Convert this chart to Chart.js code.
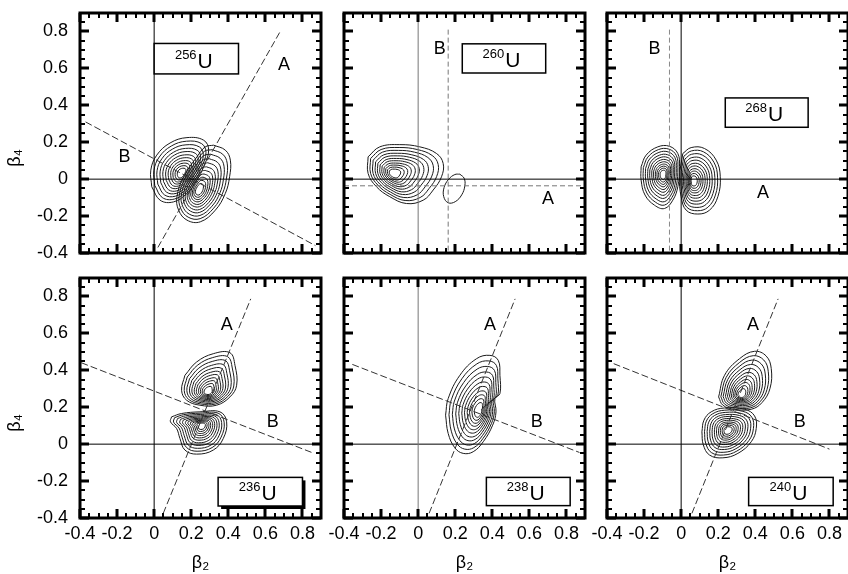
<!DOCTYPE html>
<html lang="en">
<head>
<meta charset="UTF-8">
<title>U isotopes - beta2 / beta4 contours</title>
<script src="https://cdn.jsdelivr.net/npm/chart.js"></script>
<style>
  body { margin: 0; background: #fff; }
  #wrap { position: relative; width: 848px; height: 574px; overflow: hidden; }
  #wrap canvas { position: absolute; }
</style>
</head>
<body>
<div id="wrap"></div>
<script>
// ---- data ----
const tickValues = [-0.4, -0.2, 0, 0.2, 0.4, 0.6, 0.8];
const tickLabels = ['-0.4', '-0.2', '0', '0.2', '0.4', '0.6', '0.8'];
const minorTicks = [-0.35, -0.3, -0.25, -0.15, -0.1, -0.05, 0.05, 0.1, 0.15, 0.25, 0.3, 0.35,
                    0.45, 0.5, 0.55, 0.65, 0.7, 0.75, 0.85];
const masses = ['256', '260', '268', '236', '238', '240'];

// relative size of each contour ring inside a lobe (outer = 1)
const levels = [1, 0.9, 0.8, 0.7, 0.61, 0.52, 0.44, 0.36, 0.29, 0.22, 0.15];
const single = [1];

// outer contour of each lobe, [beta2, beta4], and the point the rings close on
const u256a = [[-0.013,-0.041],[-0.018,0.049],[0.014,0.130],[0.086,0.196],[0.177,0.225],[0.267,0.211],
               [0.294,0.157],[0.267,0.067],[0.231,-0.005],[0.177,-0.077],[0.105,-0.123],[0.032,-0.114]];
const u256aMid = [0.15, 0.03];
const u256b = [[0.321,0.184],[0.384,0.157],[0.411,0.103],[0.407,0.013],[0.384,-0.077],[0.330,-0.168],
               [0.249,-0.231],[0.177,-0.222],[0.132,-0.168],[0.123,-0.095],[0.159,0.013],[0.231,0.121],[0.276,0.175]];
const u256bMid = [0.24, -0.06];

const u260a = [[-0.270,0.121],[-0.207,0.175],[-0.099,0.187],[0.009,0.175],[0.099,0.139],[0.135,0.085],
               [0.126,0.013],[0.081,-0.059],[0.027,-0.114],[-0.063,-0.132],[-0.153,-0.095],[-0.225,-0.041],[-0.270,0.031]];
const u260aMid = [-0.135, 0.031];
const u260b = [[0.225,0.027],[0.248,0.005],[0.252,-0.035],[0.235,-0.085],[0.200,-0.122],[0.162,-0.128],
               [0.138,-0.095],[0.140,-0.045],[0.165,0.000],[0.198,0.025]];
const u260bMid = [0.195, -0.05];

const u268a = [[-0.216,0.067],[-0.189,0.130],[-0.126,0.175],[-0.063,0.178],[-0.018,0.139],[-0.009,0.067],
               [-0.018,-0.041],[-0.045,-0.114],[-0.090,-0.159],[-0.144,-0.141],[-0.195,-0.086],[-0.216,-0.005]];
const u268aMid = [-0.095, 0.025];
const u268b = [[0.009,0.139],[0.054,0.171],[0.126,0.166],[0.189,0.103],[0.211,0.013],[0.198,-0.095],
               [0.153,-0.168],[0.090,-0.189],[0.027,-0.168],[0.000,-0.095],[-0.009,0.013]];
const u268bMid = [0.065, -0.01];

const u236a = [[0.166,0.373],[0.229,0.445],[0.319,0.490],[0.409,0.495],[0.436,0.427],[0.445,0.319],
               [0.409,0.256],[0.337,0.211],[0.247,0.211],[0.175,0.238],[0.148,0.292]];
const u236aMid = [0.29, 0.28];
const u236b = [[0.094,0.148],[0.148,0.166],[0.247,0.175],[0.355,0.175],[0.391,0.121],[0.373,0.031],
               [0.319,-0.032],[0.229,-0.054],[0.166,-0.032],[0.139,0.031],[0.121,0.085],[0.088,0.121]];
const u236bMid = [0.256, 0.103];

const u238a = [[0.148,0.157],[0.162,0.247],[0.225,0.373],[0.315,0.463],[0.387,0.481],[0.432,0.454],
               [0.441,0.373],[0.441,0.274],[0.414,0.247],[0.420,0.175],[0.402,0.103],[0.351,0.013],
               [0.297,-0.041],[0.243,-0.050],[0.198,-0.020],[0.162,0.058]];
const u238aMid = [0.33, 0.18];

const u240a = [[0.202,0.256],[0.234,0.373],[0.315,0.463],[0.396,0.503],[0.459,0.477],[0.486,0.409],
               [0.479,0.301],[0.436,0.225],[0.378,0.189],[0.288,0.189],[0.225,0.211]];
const u240aMid = [0.324, 0.265];
const u240b = [[0.112,0.067],[0.123,0.130],[0.162,0.175],[0.234,0.196],[0.342,0.189],[0.396,0.153],
               [0.405,0.085],[0.378,0.013],[0.306,-0.050],[0.225,-0.074],[0.153,-0.059],[0.119,-0.002]];
const u240bMid = [0.252, 0.076];

const lobes = [
  [[u256a, u256aMid, levels], [u256b, u256bMid, levels]],
  [[u260a, u260aMid, levels], [u260b, u260bMid, single]],
  [[u268a, u268aMid, levels], [u268b, u268bMid, levels]],
  [[u236a, u236aMid, levels], [u236b, u236bMid, levels]],
  [[u238a, u238aMid, levels]],
  [[u240a, u240aMid, levels], [u240b, u240bMid, levels]]
];

// fission paths A and B (end points)
const lineA = [
  [[0.02,-0.37],[0.68,0.80]],
  [[-0.4,-0.036],[0.9,-0.036]],
  null,
  [[0.049,-0.375],[0.521,0.787]],
  [[0.059,-0.375],[0.523,0.787]],
  [[0.058,-0.375],[0.523,0.787]]
];
const lineB = [
  [[-0.37,0.31],[0.87,-0.36]],
  [[0.162,0.81],[0.162,-0.4]],
  [[-0.063,0.81],[-0.063,-0.4]],
  [[-0.393,0.441],[0.85,-0.045]],
  [[-0.355,0.432],[0.87,-0.045]],
  [[-0.364,0.436],[0.80,-0.027]]
];

// ---- layout ----
const colLeft = [80, 344, 607];
const rowTop = [13, 278];
const plotW = 241, plotH = 240;
const font = '"Liberation Sans", Arial, sans-serif';

const labelPos = [
  [['A', 0.70, 0.62], ['B', -0.16, 0.12]],
  [['B', 0.117, 0.706], ['A', 0.70, -0.105]],
  [['B', -0.144, 0.706], ['A', 0.441, -0.074]],
  [['A', 0.391, 0.643], ['B', 0.64, 0.121]],
  [['A', 0.387, 0.643], ['B', 0.64, 0.121]],
  [['A', 0.387, 0.643], ['B', 0.64, 0.121]]
];
const boxPos = [
  [0, 0.455, 0.57, 0.735],
  [0.238, 0.688, 0.575, 0.733],
  [0.238, 0.685, 0.281, 0.44],
  [0.345, 0.80, -0.335, -0.18],
  [0.368, 0.82, -0.333, -0.18],
  [0.364, 0.82, -0.333, -0.18]
];
const boxShadow = [false, false, false, true, false, false];
const axisColor = ['#000', '#777', '#000', '#000', '#777', '#000'];
const pathDash = [[7, 3], [5, 3], [5, 3], [7, 3], [7, 3], [7, 3]];
const pathColor = ['#333', '#777', '#888', '#333', '#333', '#333'];

// labels, name box, frame with inward ticks
const panelDeco = {
  id: 'panelDeco',
  afterDatasetsDraw(chart, args, o) {
    const ctx = chart.ctx, xs = chart.scales.x, ys = chart.scales.y;
    ctx.save();
    ctx.fillStyle = '#000';
    ctx.font = '18px ' + font;
    ctx.textAlign = 'center';
    ctx.textBaseline = 'middle';
    o.letters.forEach(l => ctx.fillText(l[0], xs.getPixelForValue(l[1]), ys.getPixelForValue(l[2])));

    const b = o.box;
    const x0 = xs.getPixelForValue(b[0]), x1 = xs.getPixelForValue(b[1]);
    const y0 = ys.getPixelForValue(b[3]), y1 = ys.getPixelForValue(b[2]);
    if (o.shadow) {
      ctx.fillStyle = '#000';
      ctx.fillRect(x0 + 3, y0 + 3, x1 - x0, y1 - y0);
    }
    ctx.fillStyle = '#fff';
    ctx.fillRect(x0, y0, x1 - x0, y1 - y0);
    ctx.strokeStyle = '#000';
    ctx.lineWidth = 1.5;
    ctx.strokeRect(x0, y0, x1 - x0, y1 - y0);

    ctx.fillStyle = '#000';
    ctx.textAlign = 'left';
    ctx.textBaseline = 'alphabetic';
    ctx.font = '13px ' + font;
    const w1 = ctx.measureText(o.mass).width;
    ctx.font = '21px ' + font;
    const w2 = ctx.measureText('U').width;
    const sx = (x0 + x1) / 2 - (w1 + w2) / 2 - 3;
    const base = y1 - 6;
    ctx.font = '13px ' + font;
    ctx.fillText(o.mass, sx, base - 9);
    ctx.font = '21px ' + font;
    ctx.fillText('U', sx + w1 + 1, base);
    ctx.restore();
  },
  afterDraw(chart) {
    const ctx = chart.ctx, a = chart.chartArea, xs = chart.scales.x, ys = chart.scales.y;
    ctx.save();
    ctx.strokeStyle = '#000';
    function tick(v, len, w) {
      ctx.lineWidth = w;
      const px = Math.round(xs.getPixelForValue(v));
      const py = Math.round(ys.getPixelForValue(v));
      ctx.beginPath();
      ctx.moveTo(px, a.top); ctx.lineTo(px, a.top + len);
      ctx.moveTo(px, a.bottom); ctx.lineTo(px, a.bottom - len);
      ctx.moveTo(a.left, py); ctx.lineTo(a.left + len, py);
      ctx.moveTo(a.right, py); ctx.lineTo(a.right - len, py);
      ctx.stroke();
    }
    minorTicks.forEach(v => tick(v, 5, 2));
    tickValues.forEach(v => tick(v, 9, 3));
    ctx.lineWidth = 3;
    ctx.strokeRect(a.left, a.top, a.right - a.left, a.bottom - a.top);
    ctx.restore();
  }
};

function ring(points, mid, k) {
  const pts = points.map(p => ({ x: mid[0] + k * (p[0] - mid[0]), y: mid[1] + k * (p[1] - mid[1]) }));
  pts.push(pts[0]);
  return pts;
}

function seg(s) {
  return s.map(p => ({ x: p[0], y: p[1] }));
}

// fixed axis box sizes so every plot area lands on the same grid
function fixBox(s, size, horizontal) {
  if (horizontal) s.height = size; else s.width = size;
  s.paddingLeft = 0; s.paddingRight = 0; s.paddingTop = 0; s.paddingBottom = 0;
}

const wrap = document.getElementById('wrap');

for (let i = 0; i < 6; i++) {
  const r = Math.floor(i / 3), c = i % 3;
  const showX = r === 1, showY = c === 0;
  // room on the left: y labels for column 0, the "-0.4" label for the lower row
  const padL = showY ? 80 : (showX ? 20 : 6);
  const padB = showX ? 56 : 6;
  const cv = document.createElement('canvas');
  cv.width = padL + plotW + 6;
  cv.height = 6 + plotH + padB;
  cv.style.left = (colLeft[c] - padL) + 'px';
  cv.style.top = (rowTop[r] - 6) + 'px';
  wrap.appendChild(cv);

  const datasets = [];
  // coordinate axes through zero
  datasets.push({ data: [{ x: 0, y: -0.4 }, { x: 0, y: 0.9 }], borderColor: axisColor[i], borderWidth: 1 });
  datasets.push({ data: [{ x: -0.4, y: 0 }, { x: 0.9, y: 0 }], borderColor: '#000', borderWidth: 1 });
  // paths
  [lineA[i], lineB[i]].forEach(l => {
    if (l) datasets.push({ data: seg(l), borderColor: pathColor[i], borderWidth: 1, borderDash: pathDash[i] });
  });
  // contour rings
  lobes[i].forEach(lb => {
    lb[2].forEach(k => {
      datasets.push({ data: ring(lb[0], lb[1], k), borderColor: '#1a1a1a', borderWidth: 1, tension: 0.4 });
    });
  });
  datasets.forEach(d => { d.showLine = true; d.pointRadius = 0; d.fill = false; });

  new Chart(cv, {
    type: 'scatter',
    data: { datasets: datasets },
    options: {
      responsive: false,
      animation: false,
      layout: { padding: { left: showY ? 0 : padL, right: 6, top: 6, bottom: showX ? 0 : 6 } },
      plugins: {
        legend: { display: false },
        tooltip: { enabled: false },
        panelDeco: { letters: labelPos[i], box: boxPos[i], shadow: boxShadow[i], mass: masses[i] }
      },
      scales: {
        x: {
          type: 'linear', display: showX, min: -0.4, max: 0.9,
          afterBuildTicks: s => { s.ticks = tickValues.map(v => ({ value: v })); },
          afterFit: s => fixBox(s, showX ? 56 : 0, true),
          grid: { display: false, drawTicks: false },
          border: { display: false },
          ticks: { padding: 5, color: '#000', font: { size: 18, family: font }, maxRotation: 0, autoSkip: false,
                   callback: (v, idx) => tickLabels[idx] },
          title: { display: true, text: 'β₂', color: '#000', font: { size: 18, family: font }, padding: 0 }
        },
        y: {
          type: 'linear', display: showY, min: -0.4, max: 0.9,
          afterBuildTicks: s => { s.ticks = tickValues.map(v => ({ value: v })); },
          afterFit: s => fixBox(s, showY ? 80 : 0, false),
          grid: { display: false, drawTicks: false },
          border: { display: false },
          ticks: { padding: 12, color: '#000', font: { size: 18, family: font }, autoSkip: false,
                   callback: (v, idx) => tickLabels[idx] },
          title: { display: true, text: 'β₄          ', color: '#000', font: { size: 18, family: font },
                   padding: { top: 4, bottom: 0 } }
        }
      }
    },
    plugins: [panelDeco]
  });
}
</script>
</body>
</html>
